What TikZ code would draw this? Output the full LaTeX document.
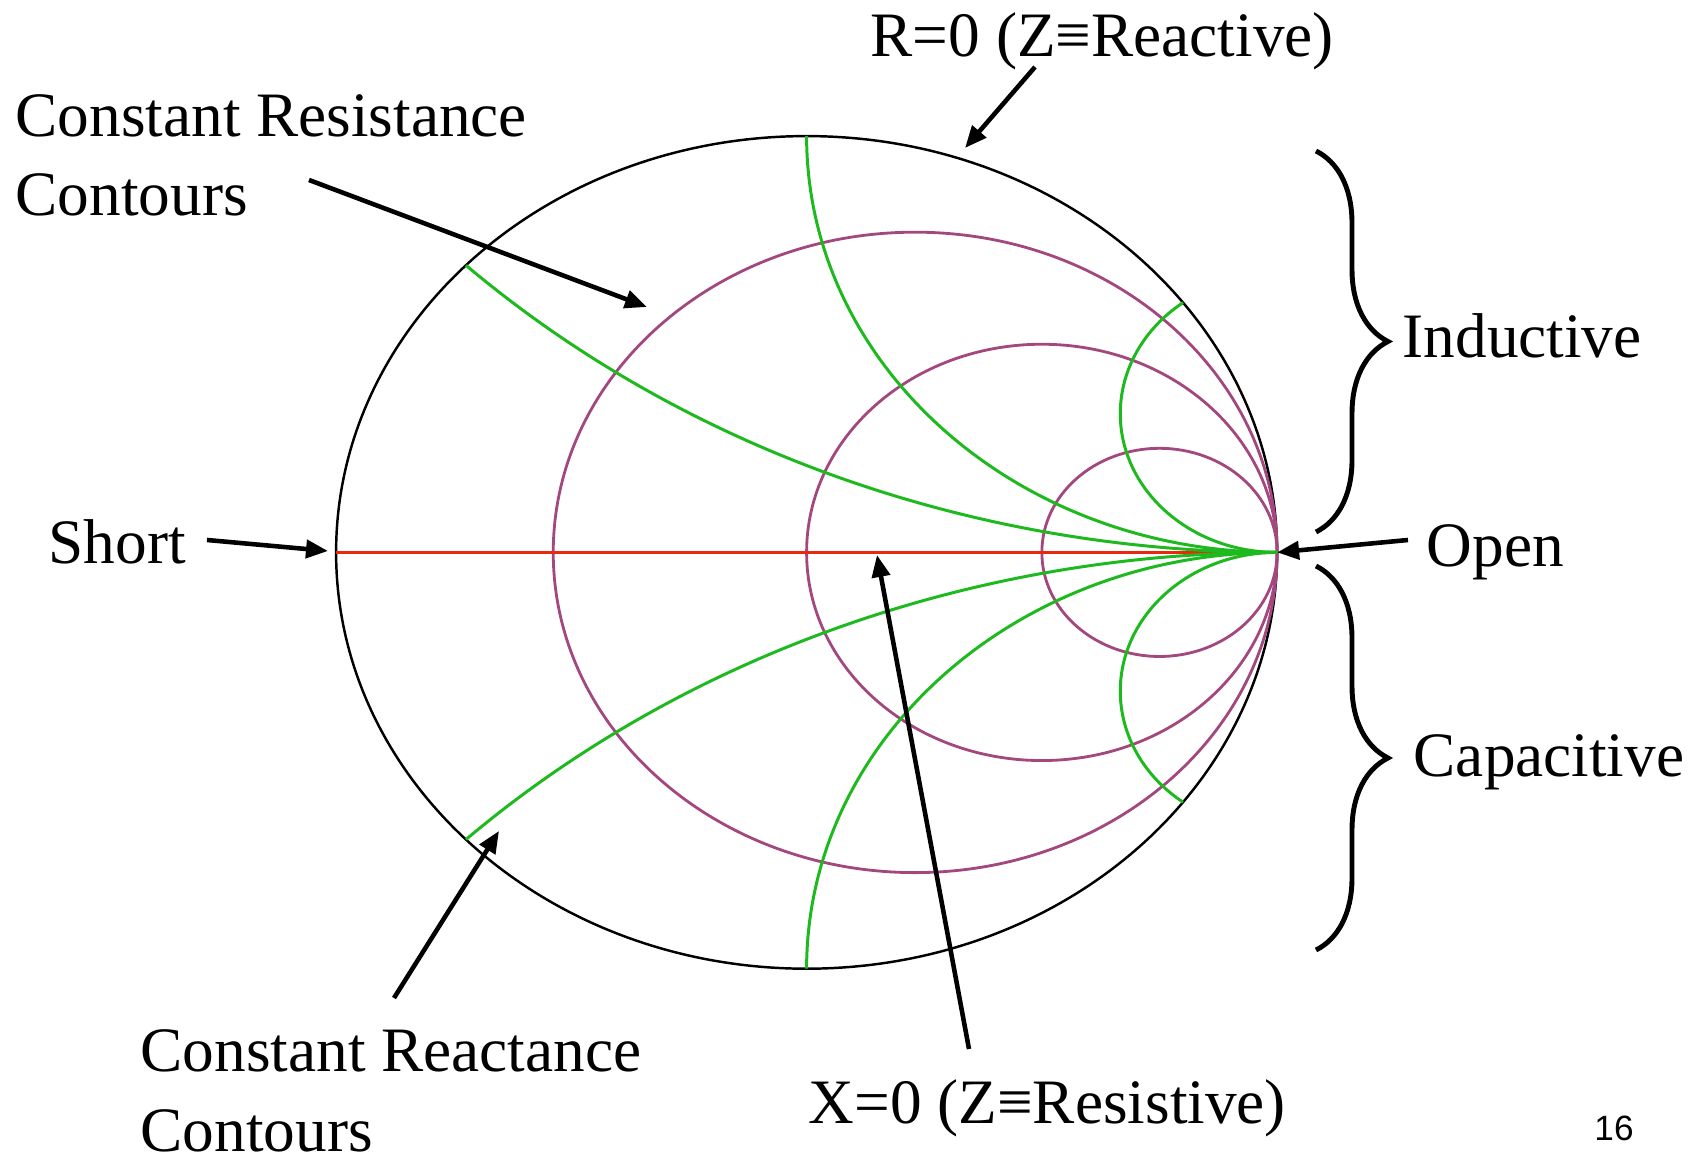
\documentclass[tikz,border=0pt]{standalone}
\usepackage{fontspec}
\setmainfont{Liberation Serif}
\newfontfamily\pagefont{Liberation Sans}
\usetikzlibrary{arrows.meta,decorations.pathreplacing}

\definecolor{rescol}{RGB}{163,72,126}
\definecolor{reaccol}{RGB}{30,185,30}
\definecolor{axiscol}{RGB}{235,40,15}

\begin{document}
\begin{tikzpicture}[>={Triangle[length=2.2mm,width=1.8mm]},
    lbl/.style={anchor=base west,inner sep=0pt,font=\fontsize{18}{22.6}\selectfont},
    pointer/.style={->,line width=1.3pt},
    rcirc/.style={rescol,line width=0.8pt},
    xarc/.style={reaccol,line width=0.85pt},
    bracket/.style={decorate,decoration={brace,amplitude=7.2mm},line width=1.4pt}]
  \useasboundingbox (0,0) rectangle (17,11.6);

  % chart, in units of the reflection coefficient
  \begin{scope}[shift={(8.066,6.076)},xscale=4.705,yscale=4.163]
    \coordinate (short) at (-1,0);
    \coordinate (open) at (1,0);
    \draw[line width=0.7pt] (0,0) circle (1);
    \foreach \r in {0.3,1,3}
      \draw[rcirc] ({\r/(\r+1)},0) circle ({1/(\r+1)});
    \draw[axiscol,line width=0.95pt] (short) -- (open);
    \foreach \x/\a in {0.4/226.4,1/180,3/126.87} {
      \draw[xarc] (open) arc[start angle=270,end angle=\a,radius={1/\x}];
      \draw[xarc] (open) arc[start angle=90,end angle={360-\a},radius={1/\x}];
    }
  \end{scope}

  \coordinate (shortpt) at (3.28,6.09);
  \coordinate (rzeropt) at (9.65,10.12);
  \coordinate (respt) at (6.47,8.53);
  \coordinate (reacpt) at (4.99,3.29);
  \coordinate (xzeropt) at (8.77,6.05);

  \node[lbl] (rzero) at (8.70,11.03) {R=0 (Z≡Reactive)};
  \node[lbl,align=left] (rescont) at (0.15,9.44) {Constant Resistance\\Contours};
  \node[lbl] (shortlbl) at (0.48,5.96) {Short};
  \node[lbl] (openlbl) at (14.26,5.93) {Open};
  \node[lbl] (indlbl) at (14.02,8.02) {Inductive};
  \node[lbl] (caplbl) at (14.13,3.83) {Capacitive};
  \node[lbl] (xzero) at (8.08,0.37) {X=0 (Z≡Resistive)};
  \node[lbl,align=left] (reaccont) at (1.40,0.09) {Constant Reactance\\Contours};
  \node[anchor=base,inner sep=0pt,font=\pagefont\fontsize{10}{12}\selectfont] (pagenum) at (16.14,0.20) {16};

  \coordinate (rzerotail) at (10.35,10.93);
  \coordinate (restail) at (3.09,9.80);
  \coordinate (shorttail) at (2.07,6.20);
  \coordinate (opentail) at (14.08,6.20);
  \coordinate (xzerotail) at (9.69,1.11);
  \coordinate (reactail) at (3.94,1.62);

  \draw[pointer] (rzerotail) -- (rzeropt);
  \draw[pointer] (restail) -- (respt);
  \draw[pointer] (shorttail) -- (shortpt);
  \draw[pointer] (opentail) -- (open);
  \draw[pointer] (xzerotail) -- (xzeropt);
  \draw[pointer] (reactail) -- (reacpt);

  \draw[bracket] (13.16,10.09) -- (13.16,6.28);
  \draw[bracket] (13.16,5.94) -- (13.16,2.10);
\end{tikzpicture}
\end{document}
